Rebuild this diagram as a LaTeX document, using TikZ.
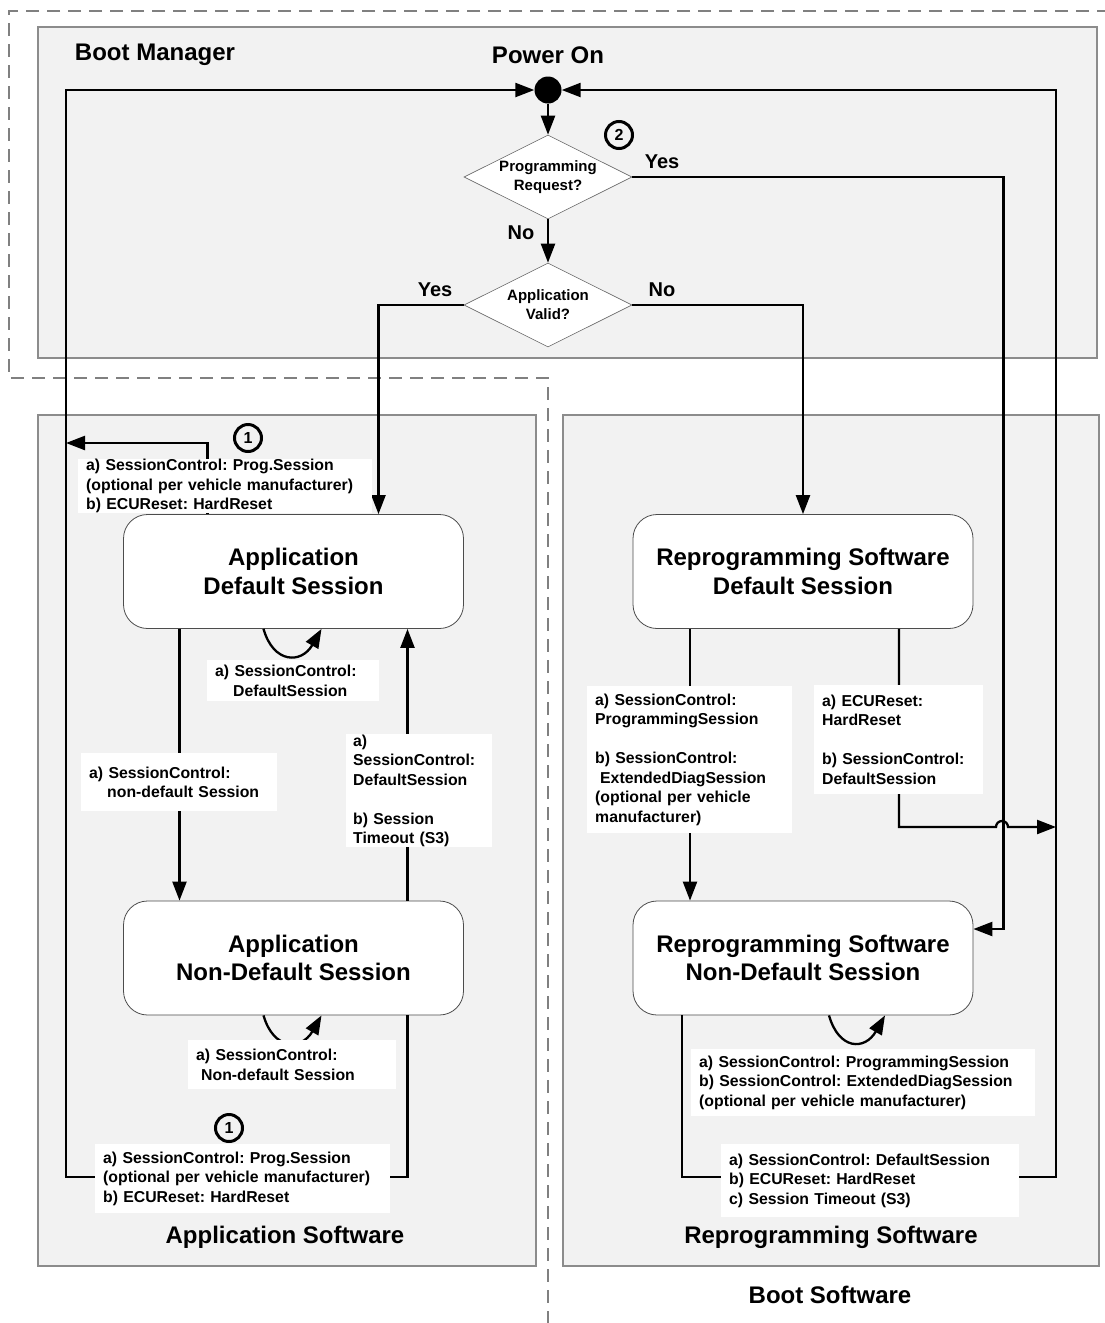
\documentclass[tikz,border=0pt]{standalone}
\usepackage{fontspec}
\setmainfont{Liberation Sans}
\usetikzlibrary{
	arrows.meta,
	positioning,
	shapes.geometric
}
\definecolor{panelfill}{HTML}{F2F2F2}
\definecolor{panelline}{HTML}{8C8C8C}
\definecolor{frameline}{HTML}{808080}
\newcommand{\lblfont}{\bfseries\fontsize{15.8}{19.5}\selectfont}
\newcommand{\statefont}{\bfseries\fontsize{24}{28.5}\selectfont}
\frenchspacing

\begin{document}
\begin{tikzpicture}[
	x=1pt, y=-1pt,
	>={Triangle[length=19pt,width=14pt]},
	arr/.style={->, line width=2.3pt, black},
	panel/.style={fill=panelfill, draw=panelline, line width=1.2pt},
	state/.style={
		draw=black!70, fill=white, line width=0.8pt, rounded corners=24pt,
		minimum width=340pt, minimum height=114pt, align=center, font=\statefont
	},
	decision/.style={
		diamond, aspect=2, draw=black!60, fill=white, line width=0.6pt,
		minimum width=168pt, minimum height=84pt, inner sep=0pt,
		align=center, font=\bfseries\fontsize{15}{19}\selectfont
	},
	lbl/.style={fill=white, anchor=north west, inner xsep=8pt, inner ysep=0pt, align=left, font=\lblfont},
	marker/.style={circle, draw, line width=3pt, minimum size=27pt, inner sep=0pt, font=\bfseries\fontsize{16}{18}\selectfont},
	title/.style={font=\bfseries\fontsize{24}{28}\selectfont},
	answer/.style={font=\bfseries\fontsize{20}{24}\selectfont}
	]
	
	\useasboundingbox (0,0) rectangle (1104,1323);
	
	% --- Panels and the boot software frame ---
	\draw[panel] (38,27) rectangle (1097,358);
	\draw[panel] (38,415) rectangle (536,1266);
	\draw[panel] (563,415) rectangle (1099,1266);
	\draw[frameline, line width=2pt, dash pattern=on 13pt off 8pt]
		(1110,11) -- (9,11) -- (9,378) -- (548,378) -- (548,1330);
	
	% --- Boot manager decisions ---
	\node[circle, fill=black, minimum size=27pt, inner sep=0pt] (dot) at (548,90) {};
	\node[decision] (d1) at (548,177) {Programming\\Request?};
	\node[decision] (d2) at (548,305) {Application\\Valid?};
	
	% --- Session states ---
	\node[state] (adf) at (293.5,571.5) {Application\\Default Session};
	\node[state] (anp) at (293.5,958) {Application\\Non-Default Session};
	\node[state] (rdf) at (803,571.5) {Reprogramming Software\\Default Session};
	\node[state] (rnp) at (803,958) {Reprogramming Software\\Non-Default Session};
	
	% points where the return paths meet the outer loops
	\coordinate (loopL) at (66,1177);
	\coordinate (joinL) at (66,443);
	\coordinate (loopR) at (1056,1177);
	\coordinate (joinR) at (1056,827);
	\coordinate (hop) at (1002,827);
	
	% --- Transitions ---
	\draw[arr] (dot) -- (d1);
	\draw[arr] (d1) -- (d2);
	\draw[arr] (d1.east) -| ([xshift=30pt,yshift=29pt]rnp.east) -- ([yshift=29pt]rnp.east);
	\draw[arr] (d2.west) -| ([xshift=85pt]adf.north);
	\draw[arr] (d2.east) -| (rdf.north);
	
	% application side
	\draw[arr] ([xshift=-114pt]adf.south) -- ([xshift=-114pt]anp.north);
	\draw[arr] ([xshift=114pt]anp.north) -- ([xshift=114pt]adf.south);
	\draw[arr] ([xshift=-30pt]adf.south) .. controls +(10,35) and +(-20,35) .. ([xshift=28pt]adf.south);
	\draw[arr] ([xshift=-30pt]anp.south) .. controls +(10,35) and +(-20,35) .. ([xshift=28pt]anp.south);
	\draw[arr] ([xshift=-86pt]adf.north) |- (joinL);
	\draw[arr] ([xshift=114pt]anp.south) |- (loopL) |- (dot.west);
	
	% reprogramming side
	\draw[arr] ([xshift=-113pt]rdf.south) -- ([xshift=-113pt]rnp.north);
	\draw[arr] ([xshift=26pt]rnp.south) .. controls +(10,35) and +(-20,35) .. ([xshift=82pt]rnp.south);
	\draw[arr] ([xshift=96pt]rdf.south) |- ([xshift=-6pt]hop) arc[start angle=180, end angle=0, radius=6pt] -- (joinR);
	\draw[arr] ([xshift=-121pt]rnp.south) |- (loopR) |- (dot.east);
	
	% --- Transition labels ---
	\node[lbl, text width=278pt, minimum height=50pt] (lblAppUp) at (78,459)
		{a) SessionControl: Prog.Session\\(optional per vehicle manufacturer)\\b) ECUReset: HardReset};
	\node[lbl, text width=156pt, minimum height=41pt] (lblAppSelf) at (207,660)
		{a) SessionControl:\\\hspace*{18pt}DefaultSession};
	\node[lbl, text width=180pt, minimum height=58pt] (lblAppDown) at (81,753)
		{a) SessionControl:\\\hspace*{18pt}non-default Session};
	\node[lbl, inner xsep=7pt, text width=132pt, minimum height=113pt] (lblAppBack) at (346,734)
		{a)\\SessionControl:\\DefaultSession\\[19.5pt]b) Session\\Timeout (S3)};
	\node[lbl, text width=192pt, minimum height=49pt] (lblAppNSelf) at (188,1040)
		{a) SessionControl:\\\hspace*{5pt}Non-default Session};
	\node[lbl, text width=279pt, minimum height=69pt] (lblAppLow) at (95,1144)
		{a) SessionControl: Prog.Session\\(optional per vehicle manufacturer)\\b) ECUReset: HardReset};
	\node[lbl, text width=189pt, minimum height=147pt] (lblRpDown) at (587,686)
		{a) SessionControl:\\ProgrammingSession\\[19.5pt]b) SessionControl:\\\hspace*{5pt}ExtendedDiagSession\\(optional per vehicle\\manufacturer)};
	\node[lbl, text width=153pt, minimum height=109pt] (lblRpReset) at (814,685)
		{a) ECUReset:\\HardReset\\[19.5pt]b) SessionControl:\\DefaultSession};
	\node[lbl, text width=328pt, minimum height=67pt] (lblRpSelf) at (691,1049)
		{a) SessionControl: ProgrammingSession\\b) SessionControl: ExtendedDiagSession\\(optional per vehicle manufacturer)};
	\node[lbl, text width=282pt, minimum height=73pt] (lblRpLow) at (721,1144)
		{a) SessionControl: DefaultSession\\b) ECUReset: HardReset\\c) Session Timeout (S3)};
	
	% --- Answers and markers ---
	\node[answer] (yes1) at (662,162) {Yes};
	\node[answer] (no1) at (521,233) {No};
	\node[answer] (yes2) at (435,290) {Yes};
	\node[answer] (no2) at (662,290) {No};
	\node[marker] (mkA) at (248,438) {1};
	\node[marker] (mkB) at (229,1128) {1};
	\node[marker] (mkC) at (619,135) {2};
	
	% --- Titles ---
	\node[title] (bmTitle) at (155,55) {Boot Manager};
	\node[title] (pwrTitle) at (548,55) {Power On};
	\node[title] (appTitle) at (285,1237) {Application Software};
	\node[title] (rpTitle) at (831,1237) {Reprogramming Software};
	\node[title] (bootTitle) at (830,1295) {Boot Software};
\end{tikzpicture}
\end{document}
